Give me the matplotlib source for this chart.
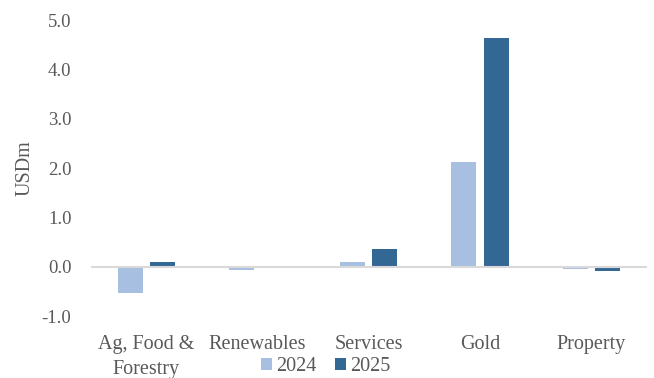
import matplotlib
matplotlib.use("Agg")
import matplotlib.pyplot as plt
import numpy as np

categories = ["Ag, Food &\nForestry", "Renewables", "Services", "Gold", "Property"]
series_names = ["2024", "2025"]
values_2024 = [-0.54, -0.06, 0.10, 2.13, -0.04]
values_2025 = [0.09, -0.005, 0.35, 4.64, -0.085]
colors = ["#A7BFE0", "#336895"]
yticks = [-1.0, 0.0, 1.0, 2.0, 3.0, 4.0, 5.0]

plt.rcParams['font.family'] = ['Liberation Serif', 'DejaVu Serif']
text_color = "#595959"
fs = 14.5

fig = plt.figure(figsize=(6.54, 3.78), dpi=100)
ax = fig.add_axes([0.139, 0.164, 0.85, 0.783])

x = np.arange(len(categories))
w = 0.225
off = 0.145
ax.bar(x - off, values_2024, width=w, color=colors[0], label=series_names[0], zorder=2)
ax.bar(x + off, values_2025, width=w, color=colors[1], label=series_names[1], zorder=2)

ax.axhline(0, color="#D9D9D9", lw=1.5, zorder=3)
ax.set_xlim(-0.5, len(categories) - 0.5)
ax.set_ylim(-1.0, 5.0)
ax.set_yticks(yticks)
ax.set_yticklabels([f"{v:.1f}" for v in yticks], fontsize=13.5, color=text_color)
ax.set_xticks(x)
ax.set_xticklabels(categories, fontsize=fs, color=text_color, linespacing=1.4)
ax.tick_params(axis='y', length=0, pad=14)
ax.tick_params(axis='x', length=0, pad=14)
for s in ax.spines.values():
    s.set_visible(False)
ax.set_ylabel("USDm", fontsize=14.5, color=text_color, labelpad=5)

leg = fig.legend(loc="center", bbox_to_anchor=(0.498, 0.031), ncol=2, frameon=False,
                 fontsize=fs, handlelength=0.55, handleheight=0.55, handletextpad=0.2,
                 columnspacing=0.9, borderpad=0)
for t in leg.get_texts():
    t.set_color(text_color)

fig.savefig("out.png", dpi=100)
